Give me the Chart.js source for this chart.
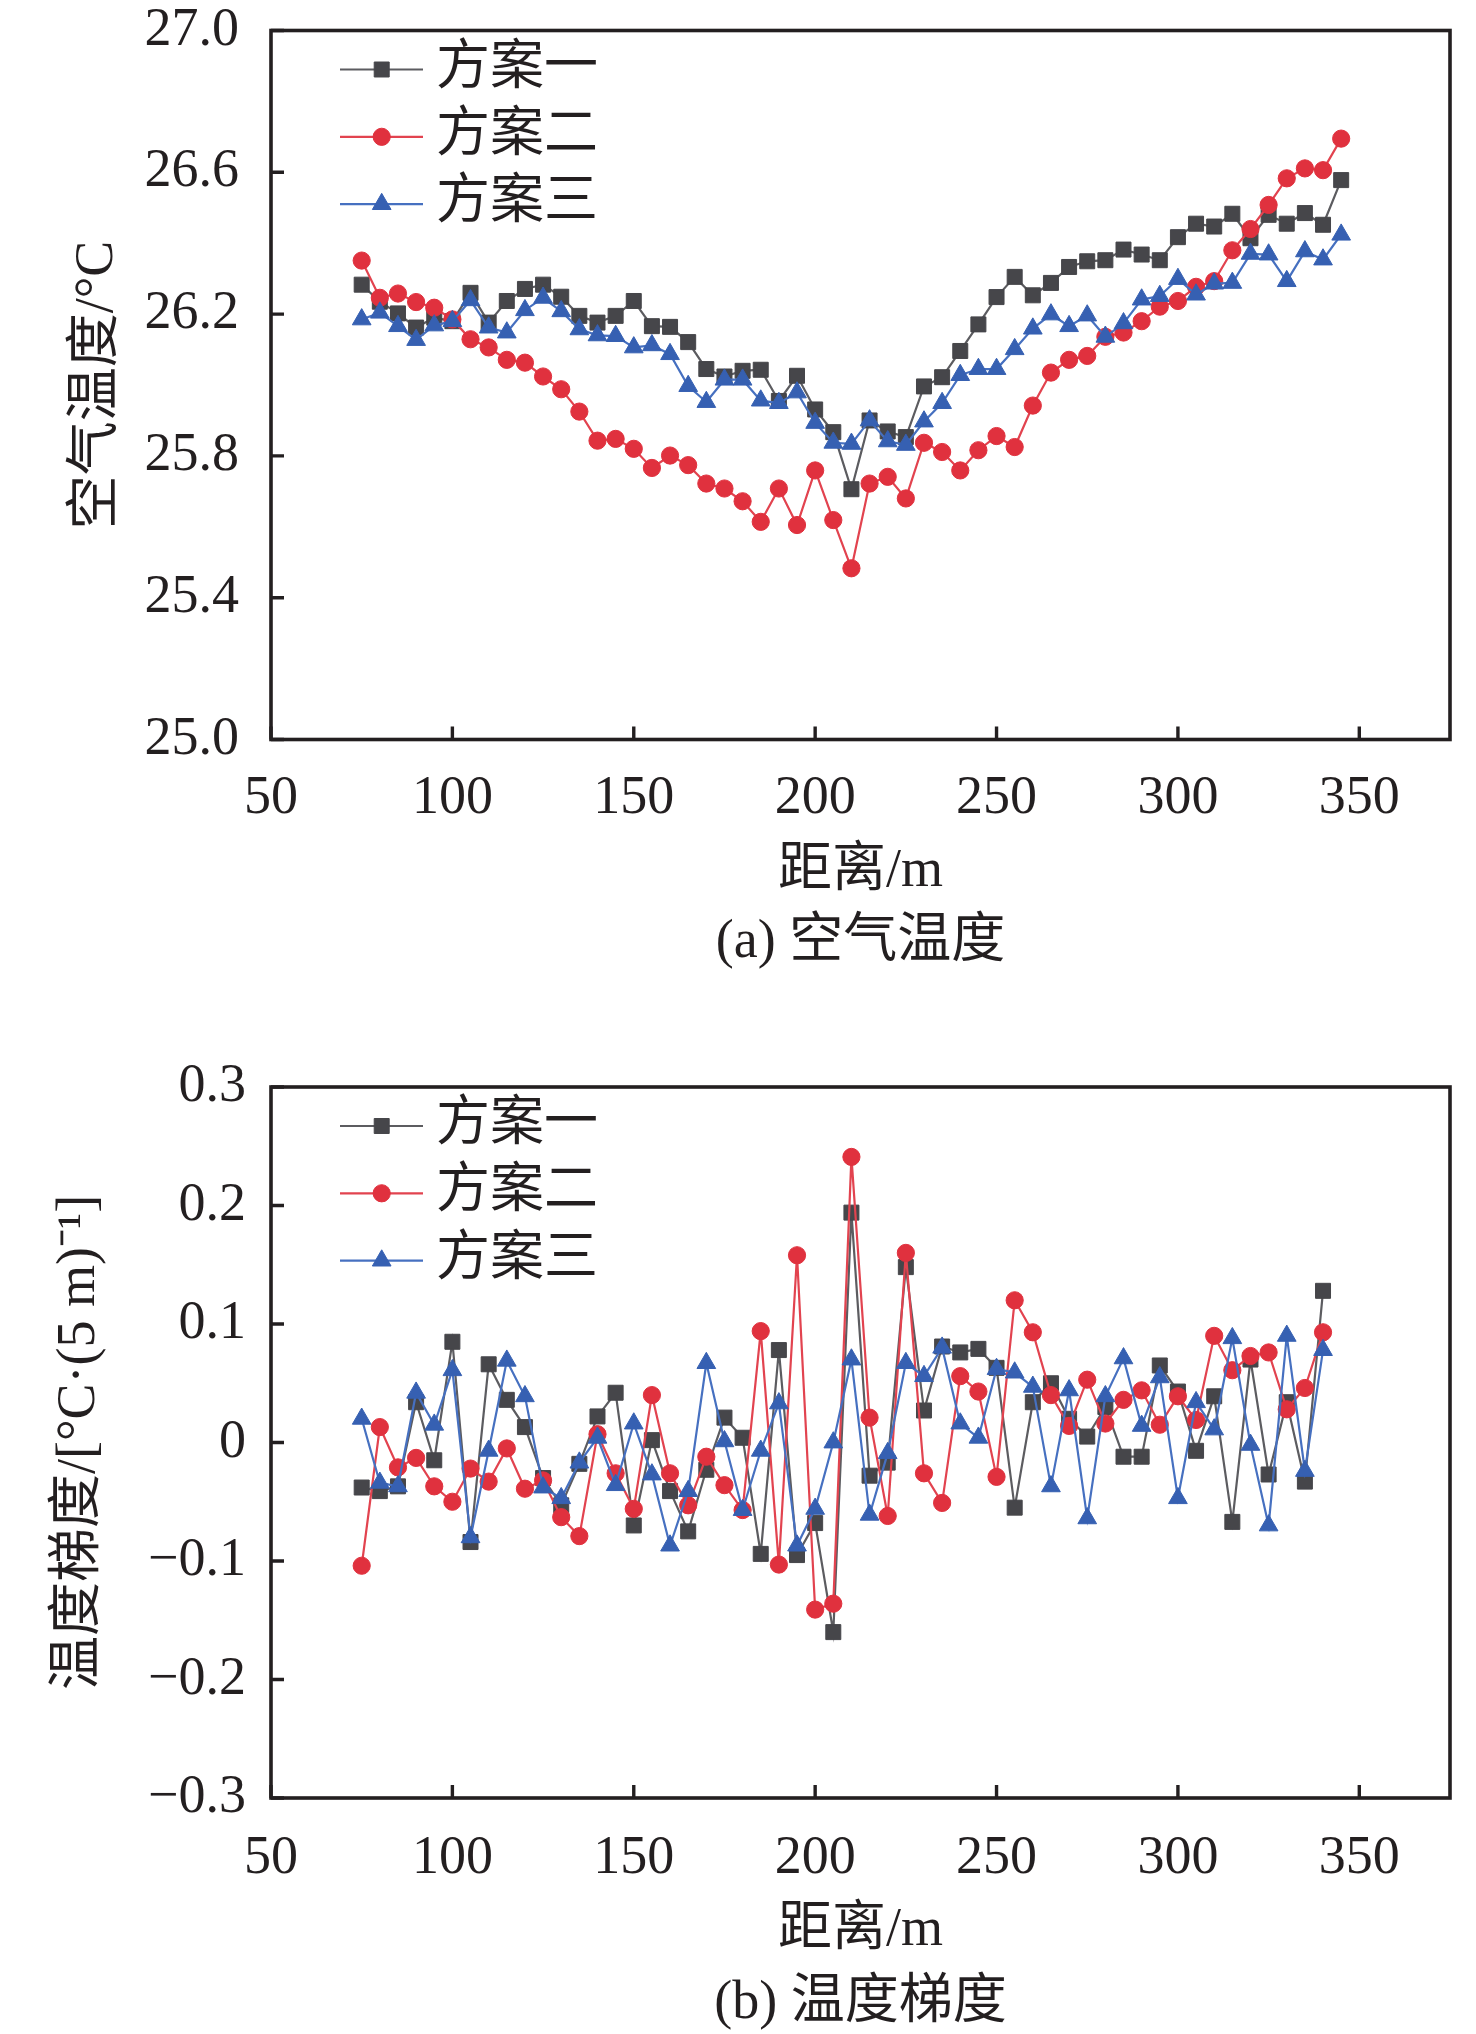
<!DOCTYPE html>
<html><head><meta charset="utf-8">
<script src="https://cdn.jsdelivr.net/npm/chart.js@4.4.0/dist/chart.umd.min.js"></script>
<style>
html,body{margin:0;padding:0;background:#fff;}
canvas{display:block;}
</style></head><body>
<canvas id="ca" width="1476" height="1000" style="width:1476px;height:1000px"></canvas>
<canvas id="cb" width="1476" height="1034" style="width:1476px;height:1034px"></canvas>
<script>
// ---------- data ----------
const seriesNames = ['方案一', '方案二', '方案三'];

const distA = [75,80,85,90,95,100,105,110,115,120,125,130,135,140,145,150,155,160,165,170,
  175,180,185,190,195,200,205,210,215,220,225,230,235,240,245,250,255,260,265,270,
  275,280,285,290,295,300,305,310,315,320,325,330,335,340,345];

const tempPlan1 = [26.283,26.235,26.202,26.162,26.19,26.18,26.260,26.176,26.237,26.271,
  26.283,26.249,26.195,26.176,26.195,26.237,26.166,26.164,26.121,26.045,
  26.024,26.040,26.043,25.955,26.026,25.931,25.867,25.706,25.90,25.869,
  25.853,25.996,26.022,26.096,26.171,26.248,26.305,26.253,26.288,26.333,
  26.349,26.352,26.382,26.368,26.352,26.417,26.455,26.447,26.483,26.414,
  26.480,26.455,26.485,26.452,26.578];
const tempPlan2 = [26.351,26.246,26.258,26.234,26.218,26.185,26.129,26.106,26.071,26.063,
  26.024,25.988,25.925,25.843,25.848,25.820,25.766,25.801,25.774,25.722,
  25.708,25.672,25.614,25.708,25.605,25.759,25.619,25.483,25.722,25.741,
  25.680,25.837,25.811,25.759,25.816,25.856,25.825,25.942,26.035,26.071,
  26.082,26.136,26.148,26.180,26.221,26.237,26.277,26.293,26.380,26.440,
  26.508,26.583,26.611,26.606,26.695];
const tempPlan3 = [26.185,26.204,26.166,26.127,26.168,26.180,26.239,26.162,26.148,26.211,
  26.246,26.208,26.157,26.140,26.138,26.106,26.112,26.087,25.997,25.952,
  26.015,26.015,25.956,25.949,25.979,25.893,25.837,25.834,25.900,25.841,
  25.831,25.897,25.949,26.028,26.045,26.045,26.101,26.159,26.199,26.166,
  26.196,26.136,26.174,26.241,26.251,26.299,26.255,26.286,26.288,26.370,
  26.368,26.293,26.377,26.354,26.424];

const distB = [75,80,85,90,95,100,105,110,115,120,125,130,135,140,145,150,155,160,165,170,
  175,180,185,190,195,200,205,210,215,220,225,230,235,240,245,250,255,260,265,270,
  275,280,285,290,295,300,305,310,315,320,325,330,335,340];

const gradPlan1 = [-0.038,-0.041,-0.037,0.034,-0.015,0.085,-0.084,0.066,0.036,0.013,
  -0.030,-0.053,-0.018,0.022,0.042,-0.070,0.002,-0.041,-0.075,-0.023,
  0.021,0.004,-0.094,0.078,-0.095,-0.068,-0.160,0.194,-0.028,-0.017,
  0.148,0.027,0.081,0.076,0.079,0.063,-0.055,0.034,0.050,0.020,
  0.005,0.030,-0.012,-0.012,0.065,0.043,-0.007,0.039,-0.067,0.070,
  -0.027,0.034,-0.033,0.128];
const gradPlan2 = [-0.104,0.013,-0.021,-0.013,-0.037,-0.050,-0.022,-0.033,-0.005,-0.039,
  -0.032,-0.063,-0.079,0.007,-0.026,-0.056,0.040,-0.026,-0.053,-0.012,
  -0.036,-0.057,0.094,-0.103,0.158,-0.141,-0.136,0.241,0.021,-0.062,
  0.160,-0.026,-0.051,0.056,0.043,-0.029,0.120,0.093,0.040,0.014,
  0.053,0.016,0.036,0.044,0.015,0.039,0.019,0.090,0.061,0.073,
  0.076,0.028,0.046,0.093];
const gradPlan3 = [0.020,-0.034,-0.037,0.042,0.015,0.061,-0.080,-0.007,0.069,0.039,
  -0.038,-0.047,-0.017,0.004,-0.036,0.016,-0.027,-0.087,-0.041,0.067,
  0.001,-0.057,-0.007,0.033,-0.087,-0.056,0.000,0.070,-0.061,-0.009,
  0.067,0.056,0.080,0.016,0.004,0.062,0.059,0.047,-0.037,0.044,
  -0.064,0.039,0.071,0.014,0.055,-0.047,0.034,0.011,0.088,-0.002,
  -0.070,0.090,-0.024,0.078];

const xTickValues = [50, 100, 150, 200, 250, 300, 350];
const yTickValuesA = [25.0, 25.4, 25.8, 26.2, 26.6, 27.0];
const yTickValuesB = [-0.3, -0.2, -0.1, 0, 0.1, 0.2, 0.3];

const xTitle = '距离/m';
const yTitleA = '空气温度/°C';
const yTitleB = '温度梯度/[°C·(5 m)⁻¹]';
const captionA = '(a) 空气温度';
const captionB = '(b) 温度梯度';

// ---------- styles ----------
const FONT = "'Liberation Serif', 'Times New Roman', 'Noto Sans CJK SC', serif";
const TXT = '#231f20';
const styles = [
  {line: '#5c5c60', fill: '#46464a', pointStyle: 'rect', radius: 10.6},
  {line: '#e2434f', fill: '#e0313e', pointStyle: 'circle', radius: 8.6},
  {line: '#4670c0', fill: '#3660b2', pointStyle: 'triangle', radius: 10.8}
];

function makeDatasets(xs, arrs) {
  return arrs.map((arr, i) => ({
    label: seriesNames[i],
    data: arr.map((v, j) => ({x: xs[j], y: v})),
    borderColor: styles[i].line,
    backgroundColor: styles[i].fill,
    borderWidth: 2.2,
    pointStyle: styles[i].pointStyle,
    pointRadius: styles[i].radius,
    pointBackgroundColor: styles[i].fill,
    pointBorderColor: styles[i].fill,
    pointBorderWidth: 1,
    tension: 0,
    order: 3 - i
  }));
}

const frameTicks = {
  id: 'frameTicks',
  afterDatasetsDraw(chart) {
    const {ctx, chartArea: a, scales} = chart;
    ctx.save();
    ctx.strokeStyle = TXT;
    ctx.lineWidth = 3.6;
    ctx.strokeRect(a.left, a.top, a.right - a.left, a.bottom - a.top);
    ctx.lineWidth = 3.4;
    ctx.beginPath();
    const tl = 13;
    scales.x.ticks.forEach(t => {
      const px = scales.x.getPixelForValue(t.value);
      ctx.moveTo(px, a.bottom); ctx.lineTo(px, a.bottom - tl);
    });
    scales.y.ticks.forEach(t => {
      const py = scales.y.getPixelForValue(t.value);
      ctx.moveTo(a.left, py); ctx.lineTo(a.left + tl, py);
    });
    ctx.stroke();
    ctx.restore();
  }
};

const lineLegend = {
  id: 'lineLegend',
  afterDraw(chart) {
    const {ctx, chartArea: a} = chart;
    ctx.save();
    chart.data.datasets.forEach((ds, i) => {
      const y = a.top + 39 + i * 67.3;
      const x0 = a.left + 69, x1 = a.left + 152, xm = a.left + 110.7;
      ctx.strokeStyle = ds.borderColor;
      ctx.lineWidth = ds.borderWidth;
      ctx.beginPath(); ctx.moveTo(x0, y); ctx.lineTo(x1, y); ctx.stroke();
      ctx.fillStyle = ds.pointBackgroundColor;
      ctx.strokeStyle = ds.pointBorderColor;
      ctx.lineWidth = ds.pointBorderWidth;
      Chart.helpers.drawPoint(ctx, {pointStyle: ds.pointStyle, rotation: 0, radius: ds.pointRadius, borderWidth: ds.pointBorderWidth}, xm, y);
      ctx.fillStyle = TXT;
      ctx.font = '54px ' + FONT;
      ctx.textBaseline = 'middle';
      ctx.textAlign = 'left';
      ctx.fillText(ds.label, a.left + 165, y);
    });
    ctx.restore();
  }
};

function fmtB(v) {
  if (Math.abs(v) < 1e-9) return '0';
  return (v < 0 ? '\u2212' : '') + Math.abs(v).toFixed(1);
}

function makeChart(id, cfg) {
  return new Chart(document.getElementById(id), {
    type: 'line',
    data: {datasets: cfg.datasets},
    plugins: [frameTicks, lineLegend],
    options: {
      responsive: false,
      animation: false,
      devicePixelRatio: 1,
      layout: {autoPadding: false, padding: {top: cfg.padTop, right: 26, left: 0, bottom: 0}},
      plugins: {
        legend: {display: false},
        tooltip: {enabled: false},
        title: {
          display: true, position: 'bottom', fullSize: false,
          text: cfg.caption, color: TXT,
          font: {family: FONT, size: 54, weight: 'normal', lineHeight: 1},
          padding: {top: 0, bottom: cfg.capPad}
        }
      },
      scales: {
        x: {
          type: 'linear', min: 50, max: 375,
          grid: {display: false, drawTicks: false}, border: {display: false},
          afterBuildTicks: s => { s.ticks = xTickValues.map(v => ({value: v})); },
          afterFit: s => { s.height = cfg.xHeight; s.paddingLeft = 0; s.paddingRight = 0; },
          ticks: {color: TXT, padding: cfg.xTickPad, maxRotation: 0, autoSkip: false,
            font: {family: FONT, size: 54, lineHeight: 1},
            callback: v => String(v)},
          title: {display: true, text: xTitle, color: TXT,
            font: {family: FONT, size: 54, lineHeight: 1},
            padding: {top: 0, bottom: cfg.xTitlePad}}
        },
        y: {
          type: 'linear', min: cfg.yMin, max: cfg.yMax,
          grid: {display: false, drawTicks: false}, border: {display: false},
          afterBuildTicks: s => { s.ticks = cfg.yTicks.map(v => ({value: v})); },
          afterFit: s => { s.width = 271; s.paddingTop = 0; s.paddingBottom = 0; },
          ticks: {color: TXT, padding: cfg.yTickPad, autoSkip: false,
            font: {family: FONT, size: 54, lineHeight: 1},
            callback: cfg.yFmt},
          title: {display: true, text: cfg.yTitle, color: TXT,
            font: {family: FONT, size: 54, lineHeight: 1},
            padding: {top: cfg.yTitlePad, bottom: 0}}
        }
      }
    }
  });
}

makeChart('ca', {
  datasets: makeDatasets(distA, [tempPlan1, tempPlan2, tempPlan3]),
  padTop: 30.5, caption: captionA, capPad: 30, xHeight: 176.5, xTickPad: 32, xTitlePad: 17,
  yMin: 25, yMax: 27, yTicks: yTickValuesA, yTickPad: 32,
  yFmt: v => Number(v).toFixed(1), yTitle: yTitleA, yTitlePad: 71
});

makeChart('cb', {
  datasets: makeDatasets(distB, [gradPlan1, gradPlan2, gradPlan3]),
  padTop: 87, caption: captionB, capPad: 3, xHeight: 179, xTickPad: 33.5, xTitlePad: 19,
  yMin: -0.3, yMax: 0.3, yTicks: yTickValuesB, yTickPad: 25,
  yFmt: fmtB, yTitle: yTitleB, yTitlePad: 53
});
</script>
</body></html>
